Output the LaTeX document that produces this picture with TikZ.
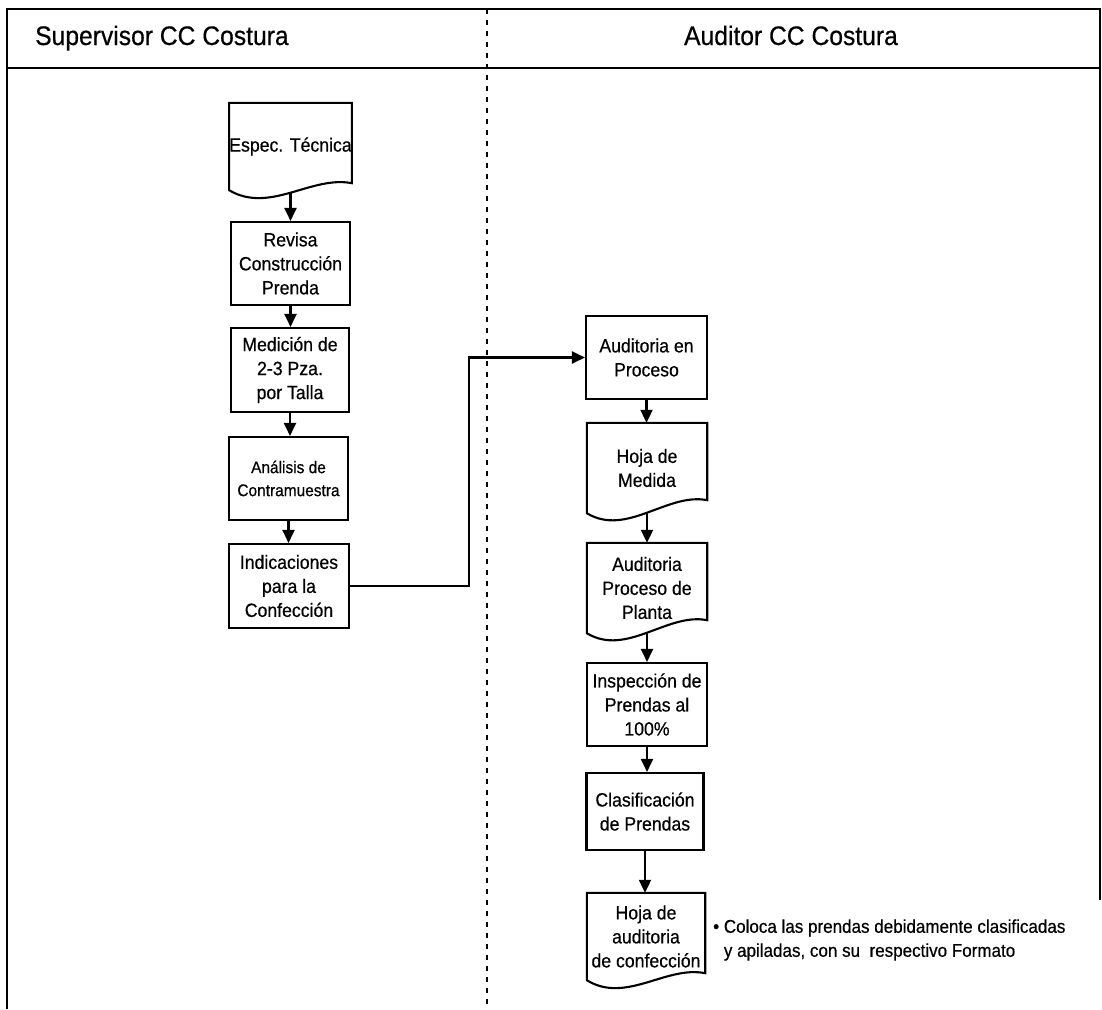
\documentclass[tikz,border=0pt]{standalone}
\usepackage{fontspec}
\setmainfont{Liberation Sans}[FakeStretch=0.92, FakeBold=0.5]
\usetikzlibrary{arrows.meta,calc}

% document symbol: flat top, wavy bottom; #2 = rise of the right end
\newcommand\docoutline[2]{%
  \draw[line width=2.1pt, line join=miter]
    (#1.south west) -- (#1.north west) -- (#1.north east)
    -- ($(#1.south east)+(0,-#2)$)
    .. controls ($(#1.south east)!0.33!(#1.south west)+(0,-#2-8)$)
            and ($(#1.south east)!0.67!(#1.south west)+(0,24)$)
    .. (#1.south west) -- cycle;}

\begin{document}
\begin{tikzpicture}[x=1pt,y=-1pt,
  boxtext/.style={font=\fontsize{19.2}{24}\selectfont},
  procbox/.style={boxtext, draw, line width=2.1pt, inner sep=0pt,
    align=center, minimum width=119pt, minimum height=83pt},
  docbox/.style={boxtext, inner sep=0pt, align=center, minimum width=119pt},
  flow/.style={line width=2.1pt, -{Triangle[length=13pt,width=12pt]}},
  frame/.style={line width=2.2pt},
  lane/.style={line width=1.6pt, dash pattern=on 5pt off 6pt},
  lanehead/.style={inner sep=0pt, font=\fontsize{26.8}{33}\selectfont}]

\useasboundingbox (0,0) rectangle (1102,1009);

% ---- swimlane frame ----
\draw[frame] (7,1009) -- (7,9) -- (1100,9) -- (1100,900);
\draw[frame] (7,68) -- (1100,68);
\draw[lane] (487,9) -- (487,1009);

\node[lanehead, anchor=base west] (lane1) at (35,45) {Supervisor CC Costura};
\node[lanehead, anchor=base] (lane2) at (791,45) {Auditor CC Costura};

% ---- Supervisor column ----
\node[docbox, minimum height=87pt] (espec) at (290.5,146.5) {Espec. Técnica};
\docoutline{espec}{7}
\coordinate (espec-b) at ($(espec.south)+(0,2.5)$);

\node[procbox] (revisa) at (290.5,263.5) {Revisa\\Construcción\\Prenda};
\node[procbox, minimum width=118pt, minimum height=84pt] (medicion) at (290,370) {Medición de\\2-3 Pza.\\por Talla};
\node[procbox, font=\fontsize{16.8}{23}\selectfont] (analisis) at (288.5,478.5) {Análisis de\\Contramuestra};
\node[procbox, minimum width=120pt, minimum height=84pt] (indic) at (289,586) {Indicaciones\\para la\\Confección};

% ---- Auditor column ----
\node[procbox, minimum width=121pt] (aud) at (646.5,357.5) {Auditoria en\\Proceso};

\node[docbox, minimum width=120pt, minimum height=90pt] (hoja1) at (647,468) {Hoja de\\Medida};
\docoutline{hoja1}{13}
\coordinate (hoja1-b) at ($(hoja1.south)+(0,-0.5)$);

\node[docbox, minimum width=120pt, minimum height=90pt] (planta) at (647,588) {Auditoria\\Proceso de\\Planta};
\docoutline{planta}{13}
\coordinate (planta-b) at ($(planta.south)+(0,-0.5)$);

\node[procbox, minimum width=120pt] (insp) at (647,704.5) {Inspección de\\Prendas al\\100\%};
\node[procbox, minimum width=117pt, minimum height=77pt] (clasif) at (645,811.5) {Clasificación\\de Prendas};

\node[docbox, minimum width=118pt, minimum height=87pt] (hoja2) at (646,936.5) {Hoja de\\auditoria\\de confección};
\docoutline{hoja2}{7}

\node[boxtext, anchor=west, align=left, inner sep=0pt, font=\fontsize{18.5}{24}\selectfont] (nota) at (713,940)
  {\textbullet\ Coloca las prendas debidamente clasificadas\\
   \phantom{\textbullet\ }y apiladas, con su~ respectivo Formato};

% ---- flow ----
\draw[flow] (espec-b) -- (espec-b |- revisa.north);
\draw[flow] (revisa.south) -- (revisa.south |- medicion.north);
\draw[flow] (medicion.south) -- (medicion.south |- analisis.north);
\draw[flow] (analisis.south) -- (analisis.south |- indic.north);
\draw[flow] (indic.east) -- ++(119,0) |- (aud.west);
\draw[flow] (aud.south) -- (aud.south |- hoja1.north);
\draw[flow] (hoja1-b) -- (hoja1-b |- planta.north);
\draw[flow] (planta-b) -- (planta-b |- insp.north);
\draw[flow] (insp.south) -- (insp.south |- clasif.north);
\draw[flow] (clasif.south) -- (clasif.south |- hoja2.north);

\end{tikzpicture}
\end{document}
